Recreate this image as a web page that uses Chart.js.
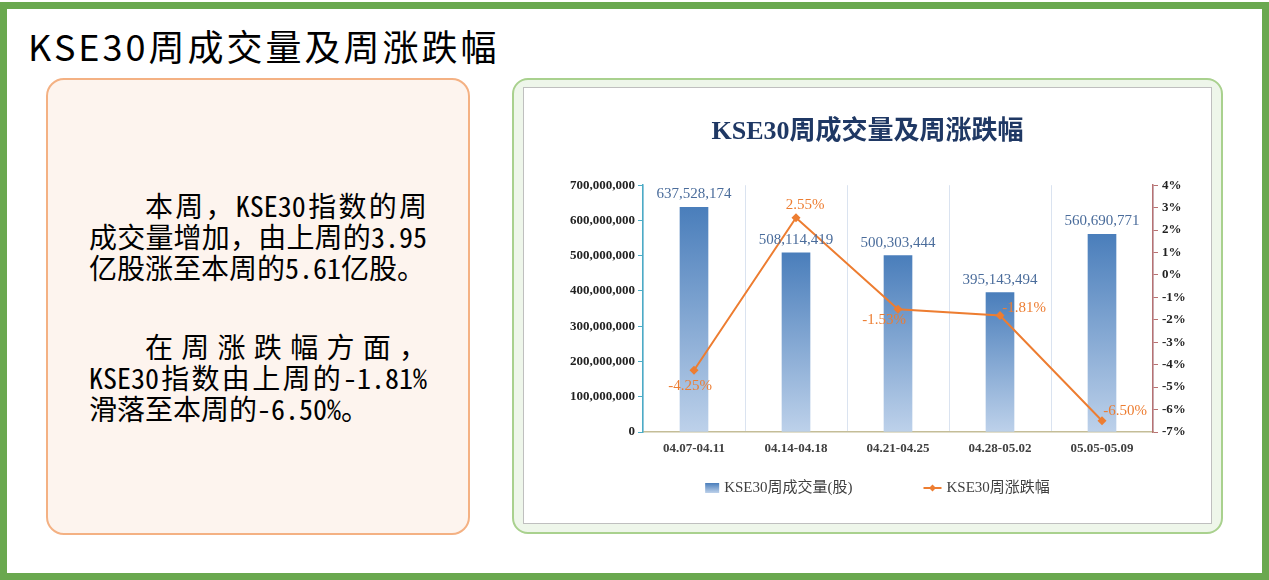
<!DOCTYPE html>
<html lang="zh-CN">
<head>
<meta charset="utf-8">
<title>KSE30周成交量及周涨跌幅</title>
<script src="https://cdn.jsdelivr.net/npm/chart.js@4.4.1/dist/chart.umd.min.js"></script>
<style>
  html, body { margin:0; padding:0; background:#fff; }
  body { width:1269px; height:580px; position:relative; overflow:hidden; }
  .frame { position:absolute; left:0; top:2px; width:1269px; height:578px; box-sizing:border-box; border:7px solid #6aa84f; }
  .page-title { position:absolute; left:28px; top:25px; font-family:"Noto Sans CJK SC", sans-serif; font-size:36px; line-height:40px; letter-spacing:3px; color:#000; white-space:nowrap; }
  .text-box { position:absolute; left:46px; top:78px; width:424px; height:457px; box-sizing:border-box; border:2px solid #f4b183; border-radius:18px; background:#fdf4ee; }
  .text { position:absolute; left:89px; top:189.5px; width:338px; font-family:"Noto Sans CJK SC", sans-serif; font-size:28px; color:#000; }
  .text .hw { font-feature-settings:"hwid" 1; }
  .text .ln { height:31px; line-height:31px; }
  .j { text-align:justify; text-align-last:justify; }
  .ind { text-indent:56px; }
  .gap { height:48px; }
  .chart-box { position:absolute; left:512px; top:78px; width:711px; height:456px; box-sizing:border-box; border:2px solid #a9d18e; border-radius:16px; background:#eef6ea; }
  .chart-inner { position:absolute; left:523px; top:87px; width:689px; height:437px; box-sizing:border-box; border:1px solid #bfbfbf; background:#fff; }
  .chart-wrap { position:relative; width:687px; height:435px; }
</style>
</head>
<body>
<div class="frame"></div>
<div class="page-title">KSE30周成交量及周涨跌幅</div>

<div class="text-box"></div>
<div class="text">
  <div class="ln j ind">本周，<span class="hw">KSE30</span>指数的周</div>
  <div class="ln j">成交量增加，由上周的<span class="hw">3.95</span></div>
  <div class="ln">亿股涨至本周的<span class="hw">5.61</span>亿股。</div>
  <div class="gap"></div>
  <div class="ln j ind">在周涨跌幅方面，</div>
  <div class="ln j"><span class="hw">KSE30</span>指数由上周的<span class="hw">-1.81%</span></div>
  <div class="ln">滑落至本周的<span class="hw">-6.50%</span>。</div>
</div>

<div class="chart-box"></div>
<div class="chart-inner"><div class="chart-wrap"><canvas id="c"></canvas></div></div>

<script>
// ---- data ----
const categories = ['04.07-04.11', '04.14-04.18', '04.21-04.25', '04.28-05.02', '05.05-05.09'];
const weeklyVolume = [637528174, 508114419, 500303444, 395143494, 560690771];
const weeklyChange = [-4.25, 2.55, -1.53, -1.81, -6.50];
const volumeTicks = [0, 100000000, 200000000, 300000000, 400000000, 500000000, 600000000, 700000000];
const changeTicks = [-7, -6, -5, -4, -3, -2, -1, 0, 1, 2, 3, 4];
const seriesNames = ['KSE30周成交量(股)', 'KSE30周涨跌幅'];
const chartTitle = 'KSE30周成交量及周涨跌幅';

// ---- styles ----
const FONT = '"Liberation Serif", "Noto Sans CJK SC", serif';
const BAR_TOP = '#4a7ebb';
const BAR_BOTTOM = '#bdd1ea';
const LINE_COLOR = '#ed7d31';
const BAR_LABEL_COLOR = '#4a6c9b';
// label offsets relative to each line point (dx, dy)
const lineLabelOffsets = [[-4, 16], [9, -13], [-14, 11], [24, -7], [23, -10]];

const fmtVol = v => v.toLocaleString('en-US');
const fmtPct = v => v.toFixed(2) + '%';

Chart.defaults.font.family = FONT;

function barGradient(c) {
  const chart = c.chart;
  const y = chart.scales && chart.scales.y;
  if (c.type !== 'data' || !y) return BAR_TOP;
  const top = y.getPixelForValue(c.raw);
  const base = y.getPixelForValue(0);
  if (!isFinite(top) || !isFinite(base) || top === base) return BAR_TOP;
  const g = chart.ctx.createLinearGradient(0, top, 0, base);
  g.addColorStop(0, BAR_TOP);
  g.addColorStop(1, BAR_BOTTOM);
  return g;
}

const valueLabels = {
  id: 'valueLabels',
  afterDatasetsDraw(chart) {
    const ctx = chart.ctx;
    ctx.save();
    ctx.textAlign = 'center';
    ctx.textBaseline = 'middle';
    ctx.font = '15px ' + FONT;
    ctx.fillStyle = BAR_LABEL_COLOR;
    chart.getDatasetMeta(0).data.forEach((el, i) => {
      ctx.fillText(fmtVol(chart.data.datasets[0].data[i]), el.x, el.y - 13);
    });
    ctx.fillStyle = LINE_COLOR;
    chart.getDatasetMeta(1).data.forEach((el, i) => {
      const o = lineLabelOffsets[i];
      ctx.fillText(fmtPct(chart.data.datasets[1].data[i]), el.x + o[0], el.y + o[1]);
    });
    ctx.restore();
  }
};

const bottomLegend = {
  id: 'bottomLegend',
  afterDraw(chart) {
    const ctx = chart.ctx;
    ctx.save();
    ctx.font = '15px ' + FONT;
    ctx.textBaseline = 'middle';
    const symW = [14, 18], symGap = 5, itemGap = 71;
    const ds = chart.data.datasets;
    const widths = ds.map((d, i) => symW[i] + symGap + ctx.measureText(d.label).width);
    const total = widths.reduce((a, b) => a + b, 0) + itemGap * (ds.length - 1);
    let x = chart.width / 2 + 10 - total / 2;
    const y = 400;
    ds.forEach((d, i) => {
      if (i === 0) {
        const g = ctx.createLinearGradient(0, y - 5, 0, y + 5);
        g.addColorStop(0, BAR_TOP); g.addColorStop(1, BAR_BOTTOM);
        ctx.fillStyle = g;
        ctx.fillRect(x, y - 5, 14, 10);
      } else {
        ctx.strokeStyle = LINE_COLOR; ctx.lineWidth = 2;
        ctx.beginPath(); ctx.moveTo(x, y); ctx.lineTo(x + 18, y); ctx.stroke();
        ctx.fillStyle = LINE_COLOR;
        ctx.beginPath(); ctx.moveTo(x + 9, y - 3.5); ctx.lineTo(x + 12.5, y); ctx.lineTo(x + 9, y + 3.5); ctx.lineTo(x + 5.5, y); ctx.closePath(); ctx.fill();
      }
      ctx.fillStyle = '#404040';
      ctx.textAlign = 'left';
      ctx.fillText(d.label, x + symW[i] + symGap, y);
      x += widths[i] + itemGap;
    });
    ctx.restore();
  }
};

new Chart(document.getElementById('c'), {
  type: 'bar',
  data: {
    labels: categories,
    datasets: [
      {
        type: 'bar',
        label: seriesNames[0],
        data: weeklyVolume,
        yAxisID: 'y',
        backgroundColor: barGradient,
        barThickness: 28,
        order: 2
      },
      {
        type: 'line',
        label: seriesNames[1],
        data: weeklyChange,
        yAxisID: 'y1',
        borderColor: LINE_COLOR,
        borderWidth: 2,
        pointStyle: 'rectRot',
        pointRadius: 4.5,
        pointBackgroundColor: LINE_COLOR,
        pointBorderColor: LINE_COLOR,
        pointBorderWidth: 0,
        tension: 0,
        order: 1
      }
    ]
  },
  options: {
    responsive: true,
    maintainAspectRatio: false,
    animation: false,
    layout: { padding: { left: 0, right: 0, top: 0, bottom: 0 } },
    plugins: {
      legend: { display: false },
      tooltip: { enabled: false },
      title: {
        display: true,
        text: chartTitle,
        color: '#1f3864',
        font: { size: 26, weight: 'bold', family: FONT },
        padding: { top: 29, bottom: 37 }
      }
    },
    scales: {
      x: {
        offset: true,
        grid: { color: '#dae3f0', lineWidth: 1, drawTicks: false, offset: true },
        border: { color: '#c4bd97', width: 1.5 },
        ticks: { color: '#404040', font: { size: 13, weight: 'bold' }, padding: 9 },
        afterFit(s) { s.height = 91; }
      },
      y: {
        position: 'left',
        min: volumeTicks[0],
        max: volumeTicks[volumeTicks.length - 1],
        afterBuildTicks(s) { s.ticks = volumeTicks.map(v => ({ value: v })); },
        grid: { drawOnChartArea: false, drawTicks: true, tickLength: 5, color: '#4bacc6' },
        border: { color: '#4bacc6', width: 1.5 },
        ticks: { color: '#222', font: { size: 13, weight: 'bold' }, padding: 3, callback: v => fmtVol(v) },
        afterFit(s) { s.width = 119; }
      },
      y1: {
        position: 'right',
        min: changeTicks[0],
        max: changeTicks[changeTicks.length - 1],
        afterBuildTicks(s) { s.ticks = changeTicks.map(v => ({ value: v })); },
        grid: { drawOnChartArea: false, drawTicks: true, tickLength: 5, color: '#b87272' },
        border: { color: '#b87272', width: 1.5 },
        ticks: { color: '#222', font: { size: 13, weight: 'bold' }, padding: 4, callback: v => v + '%' },
        afterFit(s) { s.width = 58; }
      }
    }
  },
  plugins: [valueLabels, bottomLegend]
});
</script>
</body>
</html>
